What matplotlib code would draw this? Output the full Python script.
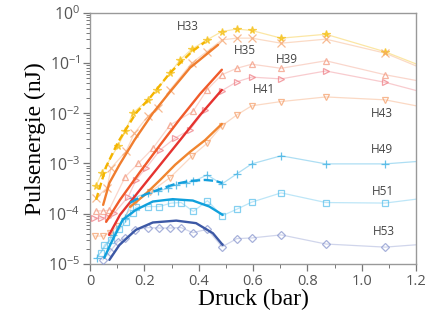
import numpy as np
import matplotlib
matplotlib.use("Agg")
import matplotlib.pyplot as plt
from matplotlib.ticker import LogLocator, MultipleLocator, NullFormatter

plt.rcParams['mathtext.fontset'] = 'custom'
plt.rcParams['mathtext.rm'] = 'Open Sans'
plt.rcParams['mathtext.it'] = 'Open Sans:italic'

# --- Messdaten (Druck in bar, Pulsenergie in nJ) ---
x_h33 = [0.022, 0.044, 0.102, 0.130, 0.157, 0.212, 0.245, 0.294, 0.331, 0.374, 0.430, 0.485, 0.540, 0.595, 0.703, 0.868, 1.086, 1.32]
y_h33 = [3.6e-4, 6.6e-4, 2.2e-3, 4.4e-3, 1.0e-2, 1.8e-2, 2.9e-2, 6.2e-2, 0.115, 0.187, 0.286, 0.42, 0.47, 0.44, 0.31, 0.37, 0.166, 0.053]

x_h35 = [0.022, 0.063, 0.077, 0.132, 0.163, 0.212, 0.251, 0.294, 0.374, 0.430, 0.485, 0.540, 0.595, 0.703, 0.868, 1.086, 1.32]
y_h35 = [2.07e-4, 3.3e-4, 8.1e-4, 1.73e-3, 4.0e-3, 8.6e-3, 1.27e-2, 2.9e-2, 9.9e-2, 0.168, 0.286, 0.31, 0.31, 0.246, 0.296, 0.156, 0.047]

x_h39 = [0.022, 0.047, 0.069, 0.129, 0.178, 0.231, 0.294, 0.379, 0.430, 0.485, 0.540, 0.595, 0.703, 0.868, 1.086, 1.32]
y_h39 = [1.14e-4, 1.14e-4, 1.17e-4, 5.4e-4, 1.01e-3, 2.0e-3, 5.8e-3, 1.08e-2, 2.9e-2, 5.8e-2, 7.8e-2, 9.4e-2, 7.8e-2, 0.110, 5.8e-2, 0.034]

x_h41 = [0.016, 0.041, 0.066, 0.089, 0.141, 0.169, 0.206, 0.258, 0.313, 0.368, 0.423, 0.485, 0.540, 0.595, 0.703, 0.868, 1.086, 1.32]
y_h41 = [8.2e-5, 8.2e-5, 8.8e-5, 1.03e-4, 2.2e-4, 4.7e-4, 8.1e-4, 1.86e-3, 3.2e-3, 4.7e-3, 1.16e-2, 2.8e-2, 4.2e-2, 5.2e-2, 4.8e-2, 6.9e-2, 4.1e-2, 0.019]

x_h43 = [0.018, 0.048, 0.074, 0.103, 0.166, 0.221, 0.294, 0.375, 0.430, 0.485, 0.540, 0.595, 0.703, 0.868, 1.086, 1.32]
y_h43 = [3.6e-5, 3.6e-5, 4.2e-5, 5.7e-5, 1.7e-4, 2.7e-4, 5.2e-4, 1.4e-3, 2.5e-3, 5.6e-3, 9.2e-3, 1.4e-2, 1.7e-2, 2.1e-2, 1.84e-2, 1.05e-2]

x_h49 = [0.024, 0.085, 0.129, 0.157, 0.212, 0.249, 0.286, 0.317, 0.353, 0.380, 0.431, 0.485, 0.540, 0.595, 0.703, 0.868, 1.086, 1.32]
y_h49 = [1.31e-5, 3.8e-5, 8.3e-5, 2.04e-4, 2.6e-4, 2.8e-4, 3.2e-4, 3.8e-4, 4.1e-4, 4.4e-4, 5.9e-4, 3.9e-4, 6.2e-4, 9.8e-4, 1.42e-3, 9.8e-4, 9.8e-4, 1.22e-3]

x_h51 = [0.040, 0.053, 0.077, 0.108, 0.132, 0.157, 0.169, 0.212, 0.255, 0.298, 0.335, 0.380, 0.432, 0.486, 0.540, 0.595, 0.703, 0.868, 1.086, 1.32]
y_h51 = [1.69e-5, 2.4e-5, 3.0e-5, 4.9e-5, 7.0e-5, 1.03e-4, 1.35e-4, 1.39e-4, 1.39e-4, 1.63e-4, 1.67e-4, 1.11e-4, 1.82e-4, 9.1e-5, 1.23e-4, 1.70e-4, 2.6e-4, 1.67e-4, 1.63e-4, 2.35e-4]

x_h53 = [0.047, 0.074, 0.102, 0.130, 0.167, 0.212, 0.253, 0.294, 0.335, 0.378, 0.431, 0.486, 0.540, 0.595, 0.703, 0.868, 1.086, 1.32]
y_h53 = [1.21e-5, 1.77e-5, 2.8e-5, 3.3e-5, 4.8e-5, 5.3e-5, 5.2e-5, 5.2e-5, 5.3e-5, 4.2e-5, 4.9e-5, 2.2e-5, 3.2e-5, 3.3e-5, 3.8e-5, 2.5e-5, 2.17e-5, 2.7e-5]

# --- Modellkurven (Fit) ---
fx_h33 = [0.022, 0.059, 0.102, 0.169, 0.217, 0.294, 0.374, 0.423]
fy_h33 = [1.9e-4, 8.6e-4, 2.6e-3, 1.01e-2, 1.92e-2, 6.3e-2, 0.166, 0.26]
fx_h35 = [0.048, 0.071, 0.108, 0.163, 0.231, 0.294, 0.368, 0.471]
fy_h35 = [1.5e-4, 4.1e-4, 9.4e-4, 2.9e-3, 1.0e-2, 2.65e-2, 8.0e-2, 0.228]
fx_h39 = [0.059, 0.110, 0.184, 0.258, 0.331, 0.405, 0.485]
fy_h39 = [6.9e-5, 1.89e-4, 6.8e-4, 2.34e-3, 7.7e-3, 2.42e-2, 7.3e-2]
fx_h41 = [0.070, 0.110, 0.184, 0.258, 0.331, 0.405, 0.485]
fy_h41 = [3.8e-5, 9.5e-5, 3.0e-4, 9.4e-4, 2.9e-3, 9.2e-3, 2.9e-2]
fx_h43 = [0.147, 0.202, 0.258, 0.313, 0.368, 0.423, 0.485]
fy_h43 = [1.37e-4, 2.4e-4, 4.7e-4, 9.4e-4, 1.7e-3, 2.9e-3, 6.1e-3]
fx_h49 = [0.147, 0.202, 0.258, 0.313, 0.368, 0.423, 0.460, 0.486]
fy_h49 = [1.65e-4, 2.4e-4, 3.1e-4, 3.9e-4, 4.5e-4, 4.7e-4, 4.5e-4, 4.1e-4]
fx_h51 = [0.052, 0.077, 0.120, 0.169, 0.231, 0.304, 0.378, 0.439, 0.488]
fy_h51 = [1.33e-5, 2.6e-5, 7.6e-5, 1.2e-4, 1.75e-4, 1.95e-4, 1.83e-4, 1.39e-4, 9.5e-5]
fx_h53 = [0.071, 0.108, 0.169, 0.231, 0.317, 0.390, 0.452, 0.488]
fy_h53 = [1.21e-5, 2.4e-5, 4.8e-5, 6.7e-5, 7.3e-5, 6.5e-5, 4.1e-5, 2.4e-5]

serien = [
    # name, x, y, fit-x, fit-y, marker, markerfarbe, fitfarbe, linienstil, label-pos
    ("H33", x_h33, y_h33, fx_h33, fy_h33, "*", "#f6c21c", "#f4b400", (0, (3, 1.5)), (0.301, 0.943)),
    ("H35", x_h35, y_h35, fx_h35, fy_h35, "x", "#f5a46e", "#f07d2e", "-", (0.475, 0.849)),
    ("H39", x_h39, y_h39, fx_h39, fy_h39, "^", "#f39a80", "#f05a2a", "-", (0.605, 0.812)),
    ("H41", x_h41, y_h41, fx_h41, fy_h41, ">", "#ef7f86", "#e5332f", "-", (0.534, 0.693)),
    ("H43", x_h43, y_h43, fx_h43, fy_h43, "v", "#f5a06c", "#f0852f", "-", (0.895, 0.600)),
    ("H49", x_h49, y_h49, fx_h49, fy_h49, "+", "#33ade2", "#149fdc", (0, (4, 1.5)), (0.895, 0.454)),
    ("H51", x_h51, y_h51, fx_h51, fy_h51, "s", "#5cc1ec", "#10a0dc", "-", (0.898, 0.288)),
    ("H53", x_h53, y_h53, fx_h53, fy_h53, "D", "#8b98cf", "#3c58a5", "-", (0.900, 0.129)),
]

fig = plt.figure(figsize=(4.25, 3.22), dpi=100)
ax = fig.add_axes([0.212, 0.180, 0.767, 0.781])

for name, xs, ys, fxs, fys, mk, mc, fc, ls, pos in serien:
    filled = mk in ("*",)
    ms = 5.5 if mk in ("*", "+", "x") else 4.2
    if mk == "D":
        ms = 3.6
    ax.plot(xs, ys, color=mc, lw=0.9, alpha=0.4, zorder=2)
    ax.plot(xs, ys, ls="none", marker=mk, ms=ms, mew=0.9, color=mc,
            mfc=mc if filled else "none", mec=mc, alpha=0.75, zorder=3)
    ax.plot(fxs, fys, color=fc, lw=1.7, ls=ls, solid_capstyle="round",
            solid_joinstyle="round", zorder=4)
    ax.text(pos[0], pos[1], name, transform=ax.transAxes, ha="center", va="center",
            fontsize=8.5, color="#444444", family="Open Sans")

ax.set_yscale("log")
ax.set_xlim(0, 1.2)
ax.set_ylim(1e-5, 1)
ax.xaxis.set_minor_locator(MultipleLocator(0.1))
ax.set_xticks([0, 0.2, 0.4, 0.6, 0.8, 1.0, 1.2])
ax.set_xticklabels(["0", "0.2", "0.4", "0.6", "0.8", "1.0", "1.2"])
ax.yaxis.set_major_locator(LogLocator(base=10, numticks=10))
ax.yaxis.set_minor_locator(LogLocator(base=10, subs=np.arange(2, 10), numticks=10))
ax.yaxis.set_minor_formatter(NullFormatter())

for lab in ax.get_xticklabels():
    lab.set_family("Open Sans")
    lab.set_fontsize(10.5)
    lab.set_color("#555555")
for lab in ax.get_yticklabels():
    lab.set_family("Open Sans")
    lab.set_fontsize(11.5)
    lab.set_color("#555555")

ax.tick_params(which="major", length=5, width=0.9, color="#777777", pad=2)
ax.tick_params(which="minor", length=3, width=0.7, color="#777777")
for sp in ax.spines.values():
    sp.set_color("#999999")
    sp.set_linewidth(1.0)

ax.set_xlabel("Druck (bar)", family="Liberation Serif", fontsize=17, labelpad=0)
ax.set_ylabel("Pulsenergie (nJ)", family="Liberation Serif", fontsize=17, labelpad=1)

fig.savefig("out.png", dpi=100)
